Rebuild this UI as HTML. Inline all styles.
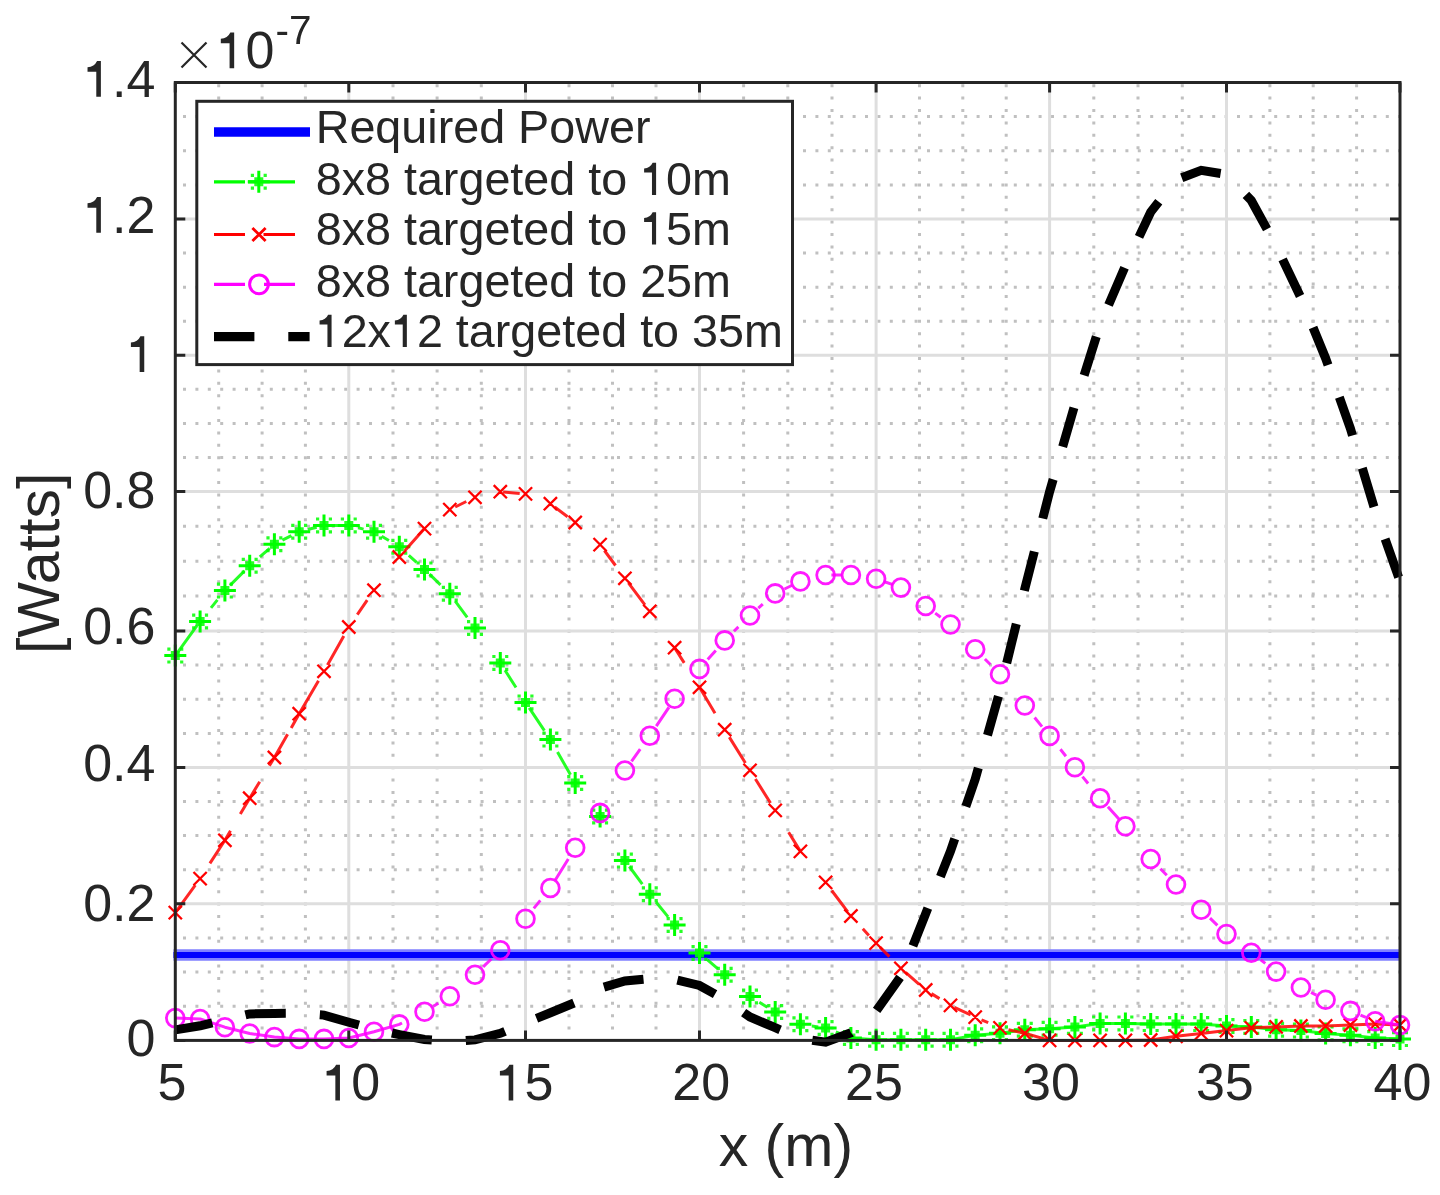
<!DOCTYPE html><html><head><meta charset="utf-8"><style>html,body{margin:0;padding:0;background:#fff;overflow:hidden;}svg{display:block;filter:blur(0.45px);}text{font-family:"Liberation Sans",sans-serif;fill:#262626;}.t1{fill:#262626;}</style></head><body>
<svg width="1440" height="1195" viewBox="0 0 1440 1195">
<rect x="0" y="0" width="1440" height="1195" fill="#fff"/>
<path d="M218.7 1040.4V82.5M262.1 1040.4V82.5M305.4 1040.4V82.5M393.0 1040.4V82.5M437.1 1040.4V82.5M481.3 1040.4V82.5M569.0 1040.4V82.5M612.5 1040.4V82.5M656.0 1040.4V82.5M743.6 1040.4V82.5M787.8 1040.4V82.5M832.0 1040.4V82.5M919.5 1040.4V82.5M962.8 1040.4V82.5M1006.2 1040.4V82.5M1093.8 1040.4V82.5M1138.0 1040.4V82.5M1182.3 1040.4V82.5M1269.9 1040.4V82.5M1313.2 1040.4V82.5M1356.6 1040.4V82.5" stroke="#c0c0c0" stroke-width="3" stroke-dasharray="3 9.4" stroke-dashoffset="1.6" fill="none"/>
<path d="M175.3 1006.2H1400.0M175.3 972.1H1400.0M175.3 937.9H1400.0M175.3 869.7H1400.0M175.3 835.6H1400.0M175.3 801.6H1400.0M175.3 733.4H1400.0M175.3 699.2H1400.0M175.3 665.1H1400.0M175.3 596.1H1400.0M175.3 561.2H1400.0M175.3 526.3H1400.0M175.3 457.4H1400.0M175.3 423.4H1400.0M175.3 389.3H1400.0M175.3 321.2H1400.0M175.3 287.2H1400.0M175.3 253.1H1400.0M175.3 184.9H1400.0M175.3 150.8H1400.0M175.3 116.6H1400.0" stroke="#c0c0c0" stroke-width="3" stroke-dasharray="3 9.4" stroke-dashoffset="4.7" fill="none"/>
<path d="M348.8 1040.4V82.5M525.5 1040.4V82.5M699.5 1040.4V82.5M876.1 1040.4V82.5M1049.6 1040.4V82.5M1226.5 1040.4V82.5M175.3 903.80H1400.0M175.3 767.50H1400.0M175.3 631.00H1400.0M175.3 491.40H1400.0M175.3 355.30H1400.0M175.3 219.05H1400.0" stroke="#dedede" stroke-width="3" fill="none"/>
<path d="M173.5 955H1401.0" stroke="#8080ff" stroke-width="11.5" fill="none"/>
<path d="M173.5 955H1401.0" stroke="#0000ff" stroke-width="6.2" fill="none"/>
<path d="M175.3 655.6 L197.0 625.7M211.0 607.9 L217.4 599.9M230.0 585.4 L244.5 570.9M259.8 556.9 L269.7 548.3M282.4 540.2 L291.4 535.6M307.7 529.5 L316.7 527.3M333.0 525.4 L341.0 525.4M358.0 527.7 L363.6 529.1M381.7 536.3 L388.9 540.5M408.8 555.3 L416.6 562.3M429.5 574.2 L440.5 584.8M455.2 601.2 L467.2 617.4M505.0 670.3 L516.0 687.5M529.2 707.9 L544.4 730.7M557.5 752.1 L570.5 774.8M629.3 866.5 L642.3 884.2M656.0 902.0 L668.1 916.9M707.5 959.9 L717.7 968.7M759.3 1002.2 L767.3 1007.2M811.8 1026.0 L818.3 1026.9M835.8 1032.0 L844.6 1035.5M857.7 1038.5 L876.1 1039.7 L900.9 1039.7 L925.7 1039.7 L950.5 1039.7 L975.2 1035.2 L1000.0 1033.3 L1024.8 1029.7 L1049.6 1028.8 L1074.9 1027.0 L1100.1 1023.4 L1125.4 1023.4 L1150.7 1024.1 L1176.0 1024.1 L1201.2 1024.1 L1226.5 1026.0 L1251.3 1026.9 L1276.1 1029.7 L1300.9 1030.6 L1325.6 1033.4 L1350.4 1035.3 L1375.2 1038.1 L1400.0 1039.1" stroke="#00ff00" stroke-width="3" stroke-opacity="0.85" fill="none" stroke-linejoin="round"/>
<path d="M164.3 655.6H186.3M175.3 644.6V666.6M189.1 621.5H211.1M200.1 610.5V632.5M213.9 590.6H235.9M224.9 579.6V601.6M238.7 565.7H260.7M249.7 554.7V576.7M263.4 544.2H285.4M274.4 533.2V555.2M288.2 531.7H310.2M299.2 520.7V542.7M313.0 525.4H335.0M324.0 514.4V536.4M337.8 525.4H359.8M348.8 514.4V536.4M363.0 531.7H385.0M374.0 520.7V542.7M388.3 546.7H410.3M399.3 535.7V557.7M413.5 569.4H435.5M424.5 558.4V580.4M438.8 593.8H460.8M449.8 582.8V604.8M464.0 628.0H486.0M475.0 617.0V639.0M489.3 662.9H511.3M500.3 651.9V673.9M514.5 702.4H536.5M525.5 691.4V713.4M539.4 739.6H561.4M550.4 728.6V750.6M564.2 783.0H586.2M575.2 772.0V794.0M589.1 816.5H611.1M600.1 805.5V827.5M613.9 860.6H635.9M624.9 849.6V871.6M638.8 894.3H660.8M649.8 883.3V905.3M663.6 925.0H685.6M674.6 914.0V936.0M688.5 953.0H710.5M699.5 942.0V964.0M713.7 974.7H735.7M724.7 963.7V985.7M739.0 996.5H761.0M750.0 985.5V1007.5M764.2 1012.0H786.2M775.2 1001.0V1023.0M789.4 1024.3H811.4M800.4 1013.3V1035.3M814.6 1028.0H836.6M825.6 1017.0V1039.0M839.9 1038.0H861.9M850.9 1027.0V1049.0M865.1 1039.7H887.1M876.1 1028.7V1050.7M889.9 1039.7H911.9M900.9 1028.7V1050.7M914.7 1039.7H936.7M925.7 1028.7V1050.7M939.5 1039.7H961.5M950.5 1028.7V1050.7M964.2 1035.2H986.2M975.2 1024.2V1046.2M989.0 1033.3H1011.0M1000.0 1022.3V1044.3M1013.8 1029.7H1035.8M1024.8 1018.7V1040.7M1038.6 1028.8H1060.6M1049.6 1017.8V1039.8M1063.9 1027.0H1085.9M1074.9 1016.0V1038.0M1089.1 1023.4H1111.1M1100.1 1012.4V1034.4M1114.4 1023.4H1136.4M1125.4 1012.4V1034.4M1139.7 1024.1H1161.7M1150.7 1013.1V1035.1M1165.0 1024.1H1187.0M1176.0 1013.1V1035.1M1190.2 1024.1H1212.2M1201.2 1013.1V1035.1M1215.5 1026.0H1237.5M1226.5 1015.0V1037.0M1240.3 1026.9H1262.3M1251.3 1015.9V1037.9M1265.1 1029.7H1287.1M1276.1 1018.7V1040.7M1289.9 1030.6H1311.9M1300.9 1019.6V1041.6M1314.6 1033.4H1336.6M1325.6 1022.4V1044.4M1339.4 1035.3H1361.4M1350.4 1024.3V1046.3M1364.2 1038.1H1386.2M1375.2 1027.1V1049.1M1389.0 1039.1H1411.0M1400.0 1028.1V1050.1" stroke="#00ff00" stroke-width="3" fill="none"/>
<path d="M170.8 651.1h9v9h-9zM167.3 647.6h3.2v3.2h-3.2zM167.3 660.4h3.2v3.2h-3.2zM180.1 647.6h3.2v3.2h-3.2zM180.1 660.4h3.2v3.2h-3.2zM195.6 617.0h9v9h-9zM192.1 613.5h3.2v3.2h-3.2zM192.1 626.3h3.2v3.2h-3.2zM204.9 613.5h3.2v3.2h-3.2zM204.9 626.3h3.2v3.2h-3.2zM220.4 586.1h9v9h-9zM216.9 582.6h3.2v3.2h-3.2zM216.9 595.4h3.2v3.2h-3.2zM229.7 582.6h3.2v3.2h-3.2zM229.7 595.4h3.2v3.2h-3.2zM245.2 561.2h9v9h-9zM241.7 557.7h3.2v3.2h-3.2zM241.7 570.5h3.2v3.2h-3.2zM254.5 557.7h3.2v3.2h-3.2zM254.5 570.5h3.2v3.2h-3.2zM269.9 539.7h9v9h-9zM266.4 536.2h3.2v3.2h-3.2zM266.4 549.0h3.2v3.2h-3.2zM279.2 536.2h3.2v3.2h-3.2zM279.2 549.0h3.2v3.2h-3.2zM294.7 527.2h9v9h-9zM291.2 523.7h3.2v3.2h-3.2zM291.2 536.5h3.2v3.2h-3.2zM304.0 523.7h3.2v3.2h-3.2zM304.0 536.5h3.2v3.2h-3.2zM319.5 520.9h9v9h-9zM316.0 517.4h3.2v3.2h-3.2zM316.0 530.2h3.2v3.2h-3.2zM328.8 517.4h3.2v3.2h-3.2zM328.8 530.2h3.2v3.2h-3.2zM344.3 520.9h9v9h-9zM340.8 517.4h3.2v3.2h-3.2zM340.8 530.2h3.2v3.2h-3.2zM353.6 517.4h3.2v3.2h-3.2zM353.6 530.2h3.2v3.2h-3.2zM369.5 527.2h9v9h-9zM366.0 523.7h3.2v3.2h-3.2zM366.0 536.5h3.2v3.2h-3.2zM378.8 523.7h3.2v3.2h-3.2zM378.8 536.5h3.2v3.2h-3.2zM394.8 542.2h9v9h-9zM391.3 538.7h3.2v3.2h-3.2zM391.3 551.5h3.2v3.2h-3.2zM404.1 538.7h3.2v3.2h-3.2zM404.1 551.5h3.2v3.2h-3.2zM420.0 564.9h9v9h-9zM416.5 561.4h3.2v3.2h-3.2zM416.5 574.2h3.2v3.2h-3.2zM429.3 561.4h3.2v3.2h-3.2zM429.3 574.2h3.2v3.2h-3.2zM445.3 589.3h9v9h-9zM441.8 585.8h3.2v3.2h-3.2zM441.8 598.6h3.2v3.2h-3.2zM454.6 585.8h3.2v3.2h-3.2zM454.6 598.6h3.2v3.2h-3.2zM470.5 623.5h9v9h-9zM467.0 620.0h3.2v3.2h-3.2zM467.0 632.8h3.2v3.2h-3.2zM479.8 620.0h3.2v3.2h-3.2zM479.8 632.8h3.2v3.2h-3.2zM495.8 658.4h9v9h-9zM492.3 654.9h3.2v3.2h-3.2zM492.3 667.7h3.2v3.2h-3.2zM505.1 654.9h3.2v3.2h-3.2zM505.1 667.7h3.2v3.2h-3.2zM521.0 697.9h9v9h-9zM517.5 694.4h3.2v3.2h-3.2zM517.5 707.2h3.2v3.2h-3.2zM530.3 694.4h3.2v3.2h-3.2zM530.3 707.2h3.2v3.2h-3.2zM545.9 735.1h9v9h-9zM542.4 731.6h3.2v3.2h-3.2zM542.4 744.4h3.2v3.2h-3.2zM555.2 731.6h3.2v3.2h-3.2zM555.2 744.4h3.2v3.2h-3.2zM570.7 778.5h9v9h-9zM567.2 775.0h3.2v3.2h-3.2zM567.2 787.8h3.2v3.2h-3.2zM580.0 775.0h3.2v3.2h-3.2zM580.0 787.8h3.2v3.2h-3.2zM595.6 812.0h9v9h-9zM592.1 808.5h3.2v3.2h-3.2zM592.1 821.3h3.2v3.2h-3.2zM604.9 808.5h3.2v3.2h-3.2zM604.9 821.3h3.2v3.2h-3.2zM620.4 856.1h9v9h-9zM616.9 852.6h3.2v3.2h-3.2zM616.9 865.4h3.2v3.2h-3.2zM629.7 852.6h3.2v3.2h-3.2zM629.7 865.4h3.2v3.2h-3.2zM645.3 889.8h9v9h-9zM641.8 886.3h3.2v3.2h-3.2zM641.8 899.1h3.2v3.2h-3.2zM654.6 886.3h3.2v3.2h-3.2zM654.6 899.1h3.2v3.2h-3.2zM670.1 920.5h9v9h-9zM666.6 917.0h3.2v3.2h-3.2zM666.6 929.8h3.2v3.2h-3.2zM679.4 917.0h3.2v3.2h-3.2zM679.4 929.8h3.2v3.2h-3.2zM695.0 948.5h9v9h-9zM691.5 945.0h3.2v3.2h-3.2zM691.5 957.8h3.2v3.2h-3.2zM704.3 945.0h3.2v3.2h-3.2zM704.3 957.8h3.2v3.2h-3.2zM720.2 970.2h9v9h-9zM716.7 966.7h3.2v3.2h-3.2zM716.7 979.5h3.2v3.2h-3.2zM729.5 966.7h3.2v3.2h-3.2zM729.5 979.5h3.2v3.2h-3.2zM745.5 992.0h9v9h-9zM742.0 988.5h3.2v3.2h-3.2zM742.0 1001.3h3.2v3.2h-3.2zM754.8 988.5h3.2v3.2h-3.2zM754.8 1001.3h3.2v3.2h-3.2zM770.7 1007.5h9v9h-9zM767.2 1004.0h3.2v3.2h-3.2zM767.2 1016.8h3.2v3.2h-3.2zM780.0 1004.0h3.2v3.2h-3.2zM780.0 1016.8h3.2v3.2h-3.2zM795.9 1019.8h9v9h-9zM792.4 1016.3h3.2v3.2h-3.2zM792.4 1029.1h3.2v3.2h-3.2zM805.2 1016.3h3.2v3.2h-3.2zM805.2 1029.1h3.2v3.2h-3.2zM821.1 1023.5h9v9h-9zM817.6 1020.0h3.2v3.2h-3.2zM817.6 1032.8h3.2v3.2h-3.2zM830.4 1020.0h3.2v3.2h-3.2zM830.4 1032.8h3.2v3.2h-3.2zM846.4 1033.5h9v9h-9zM842.9 1030.0h3.2v3.2h-3.2zM842.9 1042.8h3.2v3.2h-3.2zM855.7 1030.0h3.2v3.2h-3.2zM855.7 1042.8h3.2v3.2h-3.2zM871.6 1035.2h9v9h-9zM868.1 1031.7h3.2v3.2h-3.2zM868.1 1044.5h3.2v3.2h-3.2zM880.9 1031.7h3.2v3.2h-3.2zM880.9 1044.5h3.2v3.2h-3.2zM896.4 1035.2h9v9h-9zM892.9 1031.7h3.2v3.2h-3.2zM892.9 1044.5h3.2v3.2h-3.2zM905.7 1031.7h3.2v3.2h-3.2zM905.7 1044.5h3.2v3.2h-3.2zM921.2 1035.2h9v9h-9zM917.7 1031.7h3.2v3.2h-3.2zM917.7 1044.5h3.2v3.2h-3.2zM930.5 1031.7h3.2v3.2h-3.2zM930.5 1044.5h3.2v3.2h-3.2zM946.0 1035.2h9v9h-9zM942.5 1031.7h3.2v3.2h-3.2zM942.5 1044.5h3.2v3.2h-3.2zM955.3 1031.7h3.2v3.2h-3.2zM955.3 1044.5h3.2v3.2h-3.2zM970.7 1030.7h9v9h-9zM967.2 1027.2h3.2v3.2h-3.2zM967.2 1040.0h3.2v3.2h-3.2zM980.0 1027.2h3.2v3.2h-3.2zM980.0 1040.0h3.2v3.2h-3.2zM995.5 1028.8h9v9h-9zM992.0 1025.3h3.2v3.2h-3.2zM992.0 1038.1h3.2v3.2h-3.2zM1004.8 1025.3h3.2v3.2h-3.2zM1004.8 1038.1h3.2v3.2h-3.2zM1020.3 1025.2h9v9h-9zM1016.8 1021.7h3.2v3.2h-3.2zM1016.8 1034.5h3.2v3.2h-3.2zM1029.6 1021.7h3.2v3.2h-3.2zM1029.6 1034.5h3.2v3.2h-3.2zM1045.1 1024.3h9v9h-9zM1041.6 1020.8h3.2v3.2h-3.2zM1041.6 1033.6h3.2v3.2h-3.2zM1054.4 1020.8h3.2v3.2h-3.2zM1054.4 1033.6h3.2v3.2h-3.2zM1070.4 1022.5h9v9h-9zM1066.9 1019.0h3.2v3.2h-3.2zM1066.9 1031.8h3.2v3.2h-3.2zM1079.7 1019.0h3.2v3.2h-3.2zM1079.7 1031.8h3.2v3.2h-3.2zM1095.6 1018.9h9v9h-9zM1092.1 1015.4h3.2v3.2h-3.2zM1092.1 1028.2h3.2v3.2h-3.2zM1104.9 1015.4h3.2v3.2h-3.2zM1104.9 1028.2h3.2v3.2h-3.2zM1120.9 1018.9h9v9h-9zM1117.4 1015.4h3.2v3.2h-3.2zM1117.4 1028.2h3.2v3.2h-3.2zM1130.2 1015.4h3.2v3.2h-3.2zM1130.2 1028.2h3.2v3.2h-3.2zM1146.2 1019.6h9v9h-9zM1142.7 1016.1h3.2v3.2h-3.2zM1142.7 1028.9h3.2v3.2h-3.2zM1155.5 1016.1h3.2v3.2h-3.2zM1155.5 1028.9h3.2v3.2h-3.2zM1171.5 1019.6h9v9h-9zM1168.0 1016.1h3.2v3.2h-3.2zM1168.0 1028.9h3.2v3.2h-3.2zM1180.8 1016.1h3.2v3.2h-3.2zM1180.8 1028.9h3.2v3.2h-3.2zM1196.7 1019.6h9v9h-9zM1193.2 1016.1h3.2v3.2h-3.2zM1193.2 1028.9h3.2v3.2h-3.2zM1206.0 1016.1h3.2v3.2h-3.2zM1206.0 1028.9h3.2v3.2h-3.2zM1222.0 1021.5h9v9h-9zM1218.5 1018.0h3.2v3.2h-3.2zM1218.5 1030.8h3.2v3.2h-3.2zM1231.3 1018.0h3.2v3.2h-3.2zM1231.3 1030.8h3.2v3.2h-3.2zM1246.8 1022.4h9v9h-9zM1243.3 1018.9h3.2v3.2h-3.2zM1243.3 1031.7h3.2v3.2h-3.2zM1256.1 1018.9h3.2v3.2h-3.2zM1256.1 1031.7h3.2v3.2h-3.2zM1271.6 1025.2h9v9h-9zM1268.1 1021.7h3.2v3.2h-3.2zM1268.1 1034.5h3.2v3.2h-3.2zM1280.9 1021.7h3.2v3.2h-3.2zM1280.9 1034.5h3.2v3.2h-3.2zM1296.4 1026.1h9v9h-9zM1292.9 1022.6h3.2v3.2h-3.2zM1292.9 1035.4h3.2v3.2h-3.2zM1305.7 1022.6h3.2v3.2h-3.2zM1305.7 1035.4h3.2v3.2h-3.2zM1321.1 1028.9h9v9h-9zM1317.6 1025.4h3.2v3.2h-3.2zM1317.6 1038.2h3.2v3.2h-3.2zM1330.4 1025.4h3.2v3.2h-3.2zM1330.4 1038.2h3.2v3.2h-3.2zM1345.9 1030.8h9v9h-9zM1342.4 1027.3h3.2v3.2h-3.2zM1342.4 1040.1h3.2v3.2h-3.2zM1355.2 1027.3h3.2v3.2h-3.2zM1355.2 1040.1h3.2v3.2h-3.2zM1370.7 1033.6h9v9h-9zM1367.2 1030.1h3.2v3.2h-3.2zM1367.2 1042.9h3.2v3.2h-3.2zM1380.0 1030.1h3.2v3.2h-3.2zM1380.0 1042.9h3.2v3.2h-3.2zM1395.5 1034.6h9v9h-9zM1392.0 1031.1h3.2v3.2h-3.2zM1392.0 1043.9h3.2v3.2h-3.2zM1404.8 1031.1h3.2v3.2h-3.2zM1404.8 1043.9h3.2v3.2h-3.2z" fill="#00ff00" fill-opacity="0.85"/>
<path d="M175.3 912.6 L195.3 885.2M209.9 863.4 L224.9 840.3 L230.5 830.7M240.3 814.1 L249.7 798.2 L259.7 781.7M269.4 765.8 L274.4 757.5 L287.6 734.2M291.2 727.9 L299.2 713.7 L318.5 680.7M327.5 665.1 L343.8 635.9M357.3 614.6 L367.2 600.2M405.0 550.6 L424.5 528.6 L425.0 528.2M455.2 507.0 L466.3 501.5M503.1 491.9 L519.7 493.4M554.7 507.0 L567.6 516.7M604.4 550.5 L615.5 565.5M628.4 582.9 L644.9 604.8M674.3 647.2 L674.6 647.7 L684.2 662.9M698.7 686.0 L699.5 687.3 L715.0 713.3M729.3 737.1 L745.4 763.0M755.4 779.0 L770.5 803.0M788.6 832.2 L800.4 851.4 L801.0 852.1M831.7 890.5 L847.8 911.9M862.8 928.8 L868.9 935.4M879.9 947.0 L889.4 956.6M905.6 972.4 L919.2 984.3M931.4 993.6 L939.5 998.6M954.4 1007.3 L970.6 1014.9M981.5 1019.8 L988.2 1022.7M1008.5 1029.7 L1024.8 1033.3 L1049.6 1040.4 L1074.9 1040.4 L1100.1 1040.4 L1125.4 1040.4 L1150.7 1040.0 L1176.0 1036.3 L1201.2 1033.4 L1226.5 1030.6 L1251.3 1027.8 L1276.1 1026.9 L1300.9 1026.0 L1325.6 1026.0 L1350.4 1025.0 L1375.2 1024.1 L1400.0 1025.0" stroke="#ff0000" stroke-width="3" stroke-opacity="0.85" fill="none" stroke-linejoin="round"/>
<path d="M168.7 906.0L181.9 919.2M168.7 919.2L181.9 906.0M193.5 872.0L206.7 885.2M193.5 885.2L206.7 872.0M218.3 833.7L231.5 846.9M218.3 846.9L231.5 833.7M243.1 791.6L256.3 804.8M243.1 804.8L256.3 791.6M267.8 750.9L281.0 764.1M267.8 764.1L281.0 750.9M292.6 707.1L305.8 720.3M292.6 720.3L305.8 707.1M317.4 664.7L330.6 677.9M317.4 677.9L330.6 664.7M342.2 620.4L355.4 633.6M342.2 633.6L355.4 620.4M367.4 583.6L380.6 596.8M367.4 596.8L380.6 583.6M392.7 550.4L405.9 563.6M392.7 563.6L405.9 550.4M417.9 522.0L431.1 535.2M417.9 535.2L431.1 522.0M443.2 503.0L456.4 516.2M443.2 516.2L456.4 503.0M468.4 490.7L481.6 503.9M468.4 503.9L481.6 490.7M493.7 485.1L506.9 498.3M493.7 498.3L506.9 485.1M518.9 487.3L532.1 500.5M518.9 500.5L532.1 487.3M543.8 497.1L557.0 510.3M543.8 510.3L557.0 497.1M568.6 515.9L581.8 529.1M568.6 529.1L581.8 515.9M593.5 538.0L606.7 551.2M593.5 551.2L606.7 538.0M618.3 571.7L631.5 584.9M618.3 584.9L631.5 571.7M643.2 604.7L656.4 617.9M643.2 617.9L656.4 604.7M668.0 641.1L681.2 654.3M668.0 654.3L681.2 641.1M692.9 680.7L706.1 693.9M692.9 693.9L706.1 680.7M718.1 723.1L731.3 736.3M718.1 736.3L731.3 723.1M743.4 763.7L756.6 776.9M743.4 776.9L756.6 763.7M768.6 803.8L781.8 817.0M768.6 817.0L781.8 803.8M793.8 844.8L807.0 858.0M793.8 858.0L807.0 844.8M819.0 875.8L832.2 889.0M819.0 889.0L832.2 875.8M844.3 909.4L857.5 922.6M844.3 922.6L857.5 909.4M869.5 936.5L882.7 949.7M869.5 949.7L882.7 936.5M894.3 961.7L907.5 974.9M894.3 974.9L907.5 961.7M919.1 983.4L932.3 996.6M919.1 996.6L932.3 983.4M943.9 998.8L957.1 1012.0M943.9 1012.0L957.1 998.8M968.6 1010.5L981.8 1023.7M968.6 1023.7L981.8 1010.5M993.4 1021.3L1006.6 1034.5M993.4 1034.5L1006.6 1021.3M1018.2 1026.7L1031.4 1039.9M1018.2 1039.9L1031.4 1026.7M1043.0 1033.8L1056.2 1047.0M1043.0 1047.0L1056.2 1033.8M1068.3 1033.8L1081.5 1047.0M1068.3 1047.0L1081.5 1033.8M1093.5 1033.8L1106.7 1047.0M1093.5 1047.0L1106.7 1033.8M1118.8 1033.8L1132.0 1047.0M1118.8 1047.0L1132.0 1033.8M1144.1 1033.4L1157.3 1046.6M1144.1 1046.6L1157.3 1033.4M1169.4 1029.7L1182.6 1042.9M1169.4 1042.9L1182.6 1029.7M1194.6 1026.8L1207.8 1040.0M1194.6 1040.0L1207.8 1026.8M1219.9 1024.0L1233.1 1037.2M1219.9 1037.2L1233.1 1024.0M1244.7 1021.2L1257.9 1034.4M1244.7 1034.4L1257.9 1021.2M1269.5 1020.3L1282.7 1033.5M1269.5 1033.5L1282.7 1020.3M1294.3 1019.4L1307.5 1032.6M1294.3 1032.6L1307.5 1019.4M1319.0 1019.4L1332.2 1032.6M1319.0 1032.6L1332.2 1019.4M1343.8 1018.4L1357.0 1031.6M1343.8 1031.6L1357.0 1018.4M1368.6 1017.5L1381.8 1030.7M1368.6 1030.7L1381.8 1017.5M1393.4 1018.4L1406.6 1031.6M1393.4 1031.6L1406.6 1018.4" stroke="#ff0000" stroke-width="2.3" fill="none"/>
<path d="M175.3 1018.1 L200.1 1019.0 L224.9 1027.2 L249.7 1033.5 L274.4 1037.1 L299.2 1038.9 L324.0 1038.9 L348.8 1038.0 L374.0 1031.7 L399.3 1024.4 L402.0 1023.0M433.4 1006.3 L438.3 1003.3M483.1 966.9 L491.3 959.0M533.8 908.4 L540.3 900.4M555.3 880.0 L568.3 859.0M631.5 761.3 L640.2 749.2M656.3 726.1 L668.9 707.3M707.7 659.6 L715.8 650.5M733.9 631.3 L738.4 626.9M758.3 608.2 L762.8 604.2M784.5 589.0 L791.7 585.5M831.4 575.0 L842.2 575.0M883.8 581.5 L892.9 584.7M935.2 613.1 L940.7 617.2M984.9 659.0 L990.4 664.5M1034.6 717.5 L1042.0 726.6M1060.4 749.3 L1065.9 756.2M1082.5 776.6 L1088.1 783.5M1107.9 806.8 L1118.9 819.1M1160.4 868.8 L1166.8 875.3M1210.0 918.2 L1217.4 925.3M1260.7 959.9 L1265.3 963.4M1311.0 992.5 L1316.4 995.2M1360.5 1015.1 L1365.9 1017.4M1375.0 1021.2 L1375.2 1021.3 L1400.0 1025.0" stroke="#ff00ff" stroke-width="3" stroke-opacity="0.85" fill="none" stroke-linejoin="round"/>
<g stroke="#ff00ff" stroke-width="2.8" stroke-opacity="0.9" fill="none"><circle cx="175.3" cy="1018.1" r="8.9"/><circle cx="200.1" cy="1019.0" r="8.9"/><circle cx="224.9" cy="1027.2" r="8.9"/><circle cx="249.7" cy="1033.5" r="8.9"/><circle cx="274.4" cy="1037.1" r="8.9"/><circle cx="299.2" cy="1038.9" r="8.9"/><circle cx="324.0" cy="1038.9" r="8.9"/><circle cx="348.8" cy="1038.0" r="8.9"/><circle cx="374.0" cy="1031.7" r="8.9"/><circle cx="399.3" cy="1024.4" r="8.9"/><circle cx="424.5" cy="1011.7" r="8.9"/><circle cx="449.8" cy="996.3" r="8.9"/><circle cx="475.0" cy="974.7" r="8.9"/><circle cx="500.3" cy="950.3" r="8.9"/><circle cx="525.5" cy="918.7" r="8.9"/><circle cx="550.4" cy="888.0" r="8.9"/><circle cx="575.2" cy="847.8" r="8.9"/><circle cx="600.1" cy="812.9" r="8.9"/><circle cx="624.9" cy="770.5" r="8.9"/><circle cx="649.8" cy="735.8" r="8.9"/><circle cx="674.6" cy="698.7" r="8.9"/><circle cx="699.5" cy="668.9" r="8.9"/><circle cx="724.7" cy="640.4" r="8.9"/><circle cx="750.0" cy="615.5" r="8.9"/><circle cx="775.2" cy="593.4" r="8.9"/><circle cx="800.4" cy="581.4" r="8.9"/><circle cx="825.6" cy="575.0" r="8.9"/><circle cx="850.9" cy="575.0" r="8.9"/><circle cx="876.1" cy="578.7" r="8.9"/><circle cx="900.9" cy="587.6" r="8.9"/><circle cx="925.7" cy="606.0" r="8.9"/><circle cx="950.5" cy="624.5" r="8.9"/><circle cx="975.2" cy="649.3" r="8.9"/><circle cx="1000.0" cy="674.2" r="8.9"/><circle cx="1024.8" cy="705.5" r="8.9"/><circle cx="1049.6" cy="735.9" r="8.9"/><circle cx="1074.9" cy="767.3" r="8.9"/><circle cx="1100.1" cy="798.2" r="8.9"/><circle cx="1125.4" cy="826.3" r="8.9"/><circle cx="1150.7" cy="859.0" r="8.9"/><circle cx="1176.0" cy="884.5" r="8.9"/><circle cx="1201.2" cy="909.7" r="8.9"/><circle cx="1226.5" cy="934.1" r="8.9"/><circle cx="1251.3" cy="952.8" r="8.9"/><circle cx="1276.1" cy="971.6" r="8.9"/><circle cx="1300.9" cy="987.5" r="8.9"/><circle cx="1325.6" cy="999.7" r="8.9"/><circle cx="1350.4" cy="1010.9" r="8.9"/><circle cx="1375.2" cy="1021.3" r="8.9"/><circle cx="1400.0" cy="1025.0" r="8.9"/></g>
<path d="M175.3 1029.9 L200.1 1025.8 L224.9 1019.8 L249.7 1013.9 L274.4 1013.4 L299.2 1013.3 L324.0 1015.1 L348.8 1022.3 L374.0 1029.1 L399.3 1034.6 L424.5 1039.5 L449.8 1041.4 L475.0 1039.9 L500.3 1033.3 L525.5 1022.7 L550.4 1012.8 L575.2 1002.5 L600.1 988.2 L624.9 980.9 L649.8 978.6 L674.6 979.5 L699.5 985.5 L724.7 999.5 L750.0 1017.0 L775.2 1027.7 L800.4 1038.5 L825.6 1042.1 L850.9 1032.8 L876.1 1011.1 L900.9 976.2 L925.7 913.6 L950.5 851.1 L975.2 779.1 L1000.0 690.6 L1024.8 588.9 L1049.6 491.7 L1074.9 404.5 L1100.1 324.6 L1125.4 265.8 L1150.7 212.1 L1176.0 179.8 L1201.2 170.4 L1226.5 174.5 L1251.3 200.5 L1276.1 245.8 L1300.9 297.7 L1325.6 358.2 L1350.4 428.5 L1375.2 511.0 L1400.0 581.1" stroke="#000" stroke-width="9" stroke-dasharray="40.5 34.05" stroke-dashoffset="2.8" fill="none"/>
<rect x="175.3" y="82.5" width="1224.7" height="957.9" fill="none" stroke="#262626" stroke-width="3"/>
<path d="M175.3 1040.4V1030.4M175.3 82.5V92.5M348.8 1040.4V1030.4M348.8 82.5V92.5M525.5 1040.4V1030.4M525.5 82.5V92.5M699.5 1040.4V1030.4M699.5 82.5V92.5M876.1 1040.4V1030.4M876.1 82.5V92.5M1049.6 1040.4V1030.4M1049.6 82.5V92.5M1226.5 1040.4V1030.4M1226.5 82.5V92.5M1400.0 1040.4V1030.4M1400.0 82.5V92.5M175.3 1040.4H185.3M1400.0 1040.4H1390.0M175.3 903.8H185.3M1400.0 903.8H1390.0M175.3 767.5H185.3M1400.0 767.5H1390.0M175.3 631.0H185.3M1400.0 631.0H1390.0M175.3 491.4H185.3M1400.0 491.4H1390.0M175.3 355.3H185.3M1400.0 355.3H1390.0M175.3 219.0H185.3M1400.0 219.0H1390.0M175.3 82.5H185.3M1400.0 82.5H1390.0" stroke="#262626" stroke-width="3" fill="none"/>
<text class="t" x="172.00" y="1100.40" font-size="52" text-anchor="middle">5</text>
<text class="t" x="351.20" y="1100.40" font-size="52" text-anchor="middle"> 0</text><path class="t1" transform="translate(322.28 1100.40) scale(0.02539 -0.02539)" d="M515 0L515 985Q470 985 170 985L170 1160Q440 1180 545 1409L696 1409L696 0Z"/>
<text class="t" x="524.50" y="1100.40" font-size="52" text-anchor="middle"> 5</text><path class="t1" transform="translate(495.58 1100.40) scale(0.02539 -0.02539)" d="M515 0L515 985Q470 985 170 985L170 1160Q440 1180 545 1409L696 1409L696 0Z"/>
<text class="t" x="701.20" y="1100.40" font-size="52" text-anchor="middle">20</text>
<text class="t" x="874.00" y="1100.40" font-size="52" text-anchor="middle">25</text>
<text class="t" x="1051.00" y="1100.40" font-size="52" text-anchor="middle">30</text>
<text class="t" x="1224.80" y="1100.40" font-size="52" text-anchor="middle">35</text>
<text class="t" x="1402.50" y="1100.40" font-size="52" text-anchor="middle">40</text>
<text class="t" x="155.50" y="1056.20" font-size="52" text-anchor="end">0</text>
<text class="t" x="155.50" y="920.80" font-size="52" text-anchor="end">0.2</text>
<text class="t" x="155.50" y="781.10" font-size="52" text-anchor="end">0.4</text>
<text class="t" x="155.50" y="644.20" font-size="52" text-anchor="end">0.6</text>
<text class="t" x="155.50" y="507.80" font-size="52" text-anchor="end">0.8</text>
<text class="t" x="155.50" y="372.00" font-size="52" text-anchor="end"> </text><path class="t1" transform="translate(126.58 372.00) scale(0.02539 -0.02539)" d="M515 0L515 985Q470 985 170 985L170 1160Q440 1180 545 1409L696 1409L696 0Z"/>
<text class="t" x="155.50" y="232.80" font-size="52" text-anchor="end"> .2</text><path class="t1" transform="translate(83.21 232.80) scale(0.02539 -0.02539)" d="M515 0L515 985Q470 985 170 985L170 1160Q440 1180 545 1409L696 1409L696 0Z"/>
<text class="t" x="155.50" y="96.70" font-size="52" text-anchor="end"> .4</text><path class="t1" transform="translate(83.21 96.70) scale(0.02539 -0.02539)" d="M515 0L515 985Q470 985 170 985L170 1160Q440 1180 545 1409L696 1409L696 0Z"/>
<path d="M181.5 42.5L206.5 67.5M206.5 42.5L181.5 67.5" stroke="#262626" stroke-width="2.2" fill="none"/>
<text class="t" x="216.50" y="68.30" font-size="52" text-anchor="start"> 0</text><path class="t1" transform="translate(216.50 68.30) scale(0.02539 -0.02539)" d="M515 0L515 985Q470 985 170 985L170 1160Q440 1180 545 1409L696 1409L696 0Z"/>
<text class="t" x="275.5" y="43.9" font-size="40.5">-7</text>
<text class="t" x="785.9" y="1165.6" font-size="59" text-anchor="middle">x (m)</text>
<text class="t" transform="translate(58.9,563.4) rotate(-90)" x="0" y="0" font-size="59" text-anchor="middle">[Watts]</text>
<rect x="196.8" y="101.3" width="595.7" height="263.3" fill="#fff" stroke="#262626" stroke-width="3"/>
<path d="M214 132H310" stroke="#0000ff" stroke-width="9.5" fill="none"/>
<path d="M214 181.8H245M248 181.8H295" stroke="#00ff00" stroke-width="3.2" fill="none"/>
<path d="M247.8 181.8H269.8M258.8 170.8V192.8" stroke="#00ff00" stroke-width="3" fill="none"/>
<path d="M254.3 177.3h9v9h-9zM250.8 173.8h3.2v3.2h-3.2zM250.8 186.6h3.2v3.2h-3.2zM263.6 173.8h3.2v3.2h-3.2zM263.6 186.6h3.2v3.2h-3.2z" fill="#00ff00" fill-opacity="0.85"/>
<path d="M214 234.5H245M263.5 234.5H295" stroke="#ff0000" stroke-width="3.2" fill="none"/>
<path d="M252.4 227.9L265.6 241.1M252.4 241.1L265.6 227.9" stroke="#ff0000" stroke-width="2.8" fill="none"/>
<path d="M214 284.3H245M264 284.3H295" stroke="#ff00ff" stroke-width="3.2" fill="none"/>
<circle cx="259" cy="284.3" r="9.4" stroke="#ff00ff" stroke-width="3" fill="none"/>
<path d="M214 336.6H254.4M288.3 336.6H309.6" stroke="#000" stroke-width="9.2" fill="none"/>
<text class="t" x="315.70" y="142.80" font-size="46.7" text-anchor="start">Required Power</text>
<text class="t" x="315.70" y="195.00" font-size="46.7" text-anchor="start">8x8 targeted to  0m</text><path class="t1" transform="translate(640.23 195.00) scale(0.02280 -0.02280)" d="M515 0L515 985Q470 985 170 985L170 1160Q440 1180 545 1409L696 1409L696 0Z"/>
<text class="t" x="315.70" y="244.50" font-size="46.7" text-anchor="start">8x8 targeted to  5m</text><path class="t1" transform="translate(640.23 244.50) scale(0.02280 -0.02280)" d="M515 0L515 985Q470 985 170 985L170 1160Q440 1180 545 1409L696 1409L696 0Z"/>
<text class="t" x="315.70" y="297.20" font-size="46.7" text-anchor="start">8x8 targeted to 25m</text>
<text class="t" x="315.70" y="347.00" font-size="46.7" text-anchor="start"> 2x 2 targeted to 35m</text><path class="t1" transform="translate(315.70 347.00) scale(0.02280 -0.02280)" d="M515 0L515 985Q470 985 170 985L170 1160Q440 1180 545 1409L696 1409L696 0Z"/><path class="t1" transform="translate(390.99 347.00) scale(0.02280 -0.02280)" d="M515 0L515 985Q470 985 170 985L170 1160Q440 1180 545 1409L696 1409L696 0Z"/>
</svg></body></html>
